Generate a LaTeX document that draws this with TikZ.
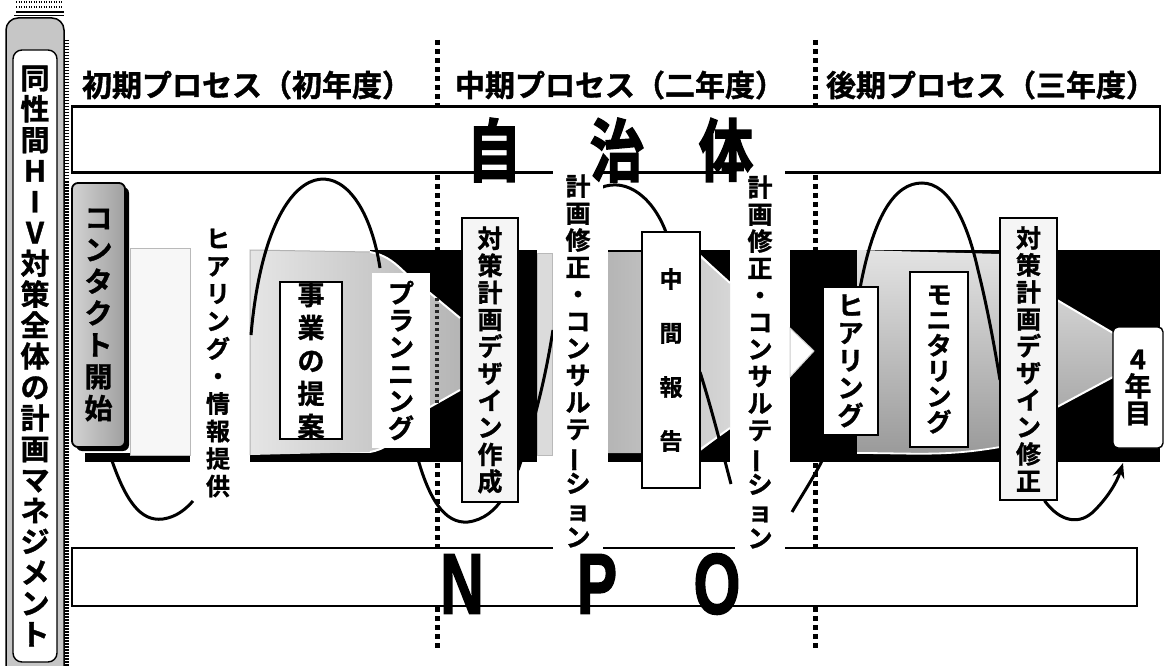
\documentclass[tikz,border=0pt]{standalone}
\usepackage{fontspec}
\setmainfont{Noto Sans CJK JP}[BoldFont={* Bold}, BoldFeatures={FakeBold=1.2}]
\newfontfamily\jpheavy{Noto Sans CJK JP}[UprightFont={* Bold}, FakeBold=2.5]
\newfontfamily\latinb{Liberation Sans}[UprightFont={* Bold}, FakeBold=2]
\usetikzlibrary{arrows.meta}
\newcommand\vbar{\rotatebox[origin=c]{90}{ー}}
\tikzset{
  lbl/.style={draw=black, line width=1.4pt, fill=white, inner sep=0pt, align=center},
  colw/.style={fill=white, inner sep=0pt, align=center},
  vfont/.style={font=\bfseries\fontsize{25}{27}\selectfont},
  thread/.style={line width=3pt, black},
  vdash/.style={line width=5pt, dash pattern=on 5pt off 4pt},
  wedge/.style={draw=white, line width=2pt},
  head/.style={font=\bfseries\fontsize{30}{30}\selectfont, inner sep=0pt},
  bigc/.style={font=\jpheavy\fontsize{68}{68}\selectfont, inner sep=0pt},
  npo/.style={font=\latinb\fontsize{86}{86}\selectfont, inner sep=0pt},
  rowbox/.style={draw=black, line width=2.6pt, fill=white, inner sep=0pt},
}
\begin{document}
\begin{tikzpicture}[x=1pt,y=-1pt]
\useasboundingbox (0,0) rectangle (1171,666);
\fill[white] (0,0) rectangle (1171,666);

% ---------- left bar ----------
\draw[line width=1.2pt, dash pattern=on 1pt off 1.5pt] (16,2) -- (62,2);
\draw[line width=1.2pt, dash pattern=on 1pt off 1.5pt] (16,7) -- (62,7);
\draw[line width=1.5pt] (16,12) -- (64,12);
\draw[line width=1.5pt] (14,15.5) -- (64,15.5);
\filldraw[fill=gray!45, draw=black, line width=1.5pt, rounded corners=12pt] (6,18) rectangle (64,700);
\draw[line width=5pt, dash pattern=on 1.5pt off 1.5pt] (66,40) -- (66,666);
\node[draw=black, line width=1.4pt, fill=white, rounded corners=9pt, minimum width=44pt, minimum height=612pt, inner sep=0pt, align=center,
      font=\bfseries\fontsize{29}{30.9}\selectfont] (bar) at (35,356)
  {同\\性\\間\\H\\I\\V\\対\\策\\全\\体\\の\\計\\画\\マ\\ネ\\ジ\\メ\\ン\\ト};

% ---------- dashed phase separators ----------
\coordinate (d1t) at (437,40);  \coordinate (d1b) at (437,650);
\coordinate (d2t) at (815,40);  \coordinate (d2b) at (815,650);
\draw[vdash] (d1t) -- (d1b);
\draw[vdash] (d2t) -- (d2b);

% ---------- headings ----------
\node[head] (h1) at (247,85) {初期プロセス（初年度）};
\node[head] (h2) at (620,85) {中期プロセス（二年度）};
\node[head] (h3) at (991,85) {後期プロセス（三年度）};

% ---------- band (black backgrounds) ----------
\fill (85,453) rectangle (190,462);
\fill[rounded corners=6pt] (76,187) rectangle (129,451);
\fill (250,453) rectangle (537,462);
\fill (370,250) rectangle (537,462);
\fill (608,250) rectangle (730,462);
\fill (790,250) rectangle (1160,462);

% light box
\filldraw[fill=gray!6, draw=gray!55, line width=1pt] (130,248) rectangle (190,455);
% shape B
\shade[left color=gray!20, right color=gray!58]
  (250,250) -- (370,252) to[out=-10,in=150] (430,293) -- (460,318) -- (460,390) -- (430,407) to[out=-150,in=10] (370,452) -- (250,455) -- cycle;
\draw[gray!60, line width=1pt] (250,455) -- (250,250) -- (370,252);
\draw[wedge] (370,252) to[out=-10,in=150] (430,293) -- (460,318);
\draw[wedge] (460,390) -- (430,407) to[out=-150,in=10] (370,452);
\draw[line width=4pt, dash pattern=on 3pt off 3pt, black!85] (437,298) -- (437,405);
% sliver
\filldraw[fill=gray!28, draw=gray!55, line width=1pt] (537,253) rectangle (552,455);
% middle shape
\shade[left color=gray!58, right color=gray!32]
  (608,252) -- (698,252) -- (730,283) -- (730,428) -- (698,453) -- (608,453) -- cycle;
\draw[wedge] (698,254) -- (730,283);
\draw[wedge] (730,428) -- (698,451);
% small triangle
\filldraw[fill=white, draw=gray!40, line width=1pt] (790,328) -- (814,351) -- (790,377) -- cycle;
% shape C
\shade[top color=gray!22, bottom color=gray!80]
  (857,250) -- (1000,254) -- (1057,300) -- (1113,333) -- (1113,377) -- (1057,407) -- (1000,447) to[out=-170,in=0] (857,453) -- cycle;
\draw[wedge] (1057,300) -- (1113,333);
\draw[wedge] (1113,377) -- (1057,407);
\draw[white, line width=1.8pt] (1000,447) to[out=-170,in=0] (857,453);

% ---------- thread ----------
\draw[thread] (110,455) .. controls (125,500) and (140,522) .. (163,519) .. controls (176,517) and (185,510) .. (193,501);
\draw[thread] (251,335) .. controls (268,140) and (360,140) .. (380,268);
\draw[thread] (415,448) .. controls (428,500) and (445,524) .. (468,522) .. controls (484,520) and (495,510) .. (503,498);
\draw[thread] (518,470) .. controls (535,420) and (545,380) .. (553,330);
\draw[thread] (600,188) .. controls (628,176) and (655,200) .. (667,235);
\draw[thread] (700,372) .. controls (712,410) and (722,450) .. (731,484);
\draw[thread] (792,512) .. controls (805,490) and (822,465) .. (833,437);
\draw[thread] (858,300) .. controls (872,215) and (895,183) .. (922,183) .. controls (950,183) and (968,225) .. (978,270) .. controls (988,310) and (995,350) .. (1000,380);

% ---------- row boxes ----------
\node[rowbox, minimum width=1088pt, minimum height=66pt] (jbox) at (616,139.5) {};
\node[rowbox, minimum width=1065pt, minimum height=58pt] (nbox) at (604.5,577) {};

% ---------- labels ----------
\node[draw=black, line width=1.8pt, rounded corners=6pt, left color=gray!35, right color=gray!75, inner sep=0pt, align=center,
      minimum width=53pt, minimum height=264pt, font=\bfseries\fontsize{28}{31.7}\selectfont] (contact) at (98.5,315)
  {コ\\ン\\タ\\ク\\ト\\開\\始};
\node[colw, font=\bfseries\fontsize{24}{27.5}\selectfont] (hear) at (218,363)
  {ヒ\\ア\\リ\\ン\\グ\\・\\情\\報\\提\\供};
\node[lbl, minimum width=62pt, minimum height=153pt, font=\bfseries\fontsize{27}{33}\selectfont] (prop) at (311,360.5)
  {事\\業\\の\\提\\案};
\node[lbl, draw=none, minimum width=58pt, minimum height=175pt, font=\bfseries\fontsize{26}{27}\selectfont] (plan) at (401,360.5)
  {プ\\ラ\\ン\\ニ\\ン\\グ};
\node[lbl, fill=gray!8, minimum width=56pt, minimum height=284pt, vfont] (des1) at (490,360)
  {対\\策\\計\\画\\デ\\ザ\\イ\\ン\\作\\成};
\node[colw, minimum width=50pt, minimum height=386pt, vfont] (con1) at (578,361)
  {計\\画\\修\\正\\・\\コ\\ン\\サ\\ル\\テ\\\vbar\\シ\\ョ\\ン};
\node[lbl, minimum width=58pt, minimum height=256pt, font=\bfseries\fontsize{23}{54}\selectfont] (mid) at (671,360)
  {中\\間\\報\\告};
\node[colw, minimum width=50pt, minimum height=386pt, vfont] (con2) at (760,362)
  {計\\画\\修\\正\\・\\コ\\ン\\サ\\ル\\テ\\\vbar\\シ\\ョ\\ン};
\node[lbl, minimum width=55pt, minimum height=148pt, font=\bfseries\fontsize{26}{27.5}\selectfont] (hear2) at (850.5,361)
  {ヒ\\ア\\リ\\ン\\グ};
\node[lbl, minimum width=58pt, minimum height=175pt, font=\bfseries\fontsize{25}{25.5}\selectfont] (mon) at (939,359.5)
  {モ\\ニ\\タ\\リ\\ン\\グ};
\node[lbl, fill=gray!8, minimum width=57pt, minimum height=282pt, vfont] (des2) at (1028.5,359)
  {対\\策\\計\\画\\デ\\ザ\\イ\\ン\\修\\正};
\node[lbl, rounded corners=5pt, minimum width=50pt, minimum height=121pt, font=\bfseries\fontsize{27}{27}\selectfont] (yr4) at (1138,387.5)
  {4\\年\\目};

% final arrow into year 4
\draw[thread, -{Stealth[length=15pt,width=12pt,fill=gray!55]}] (des2.south) ++(16,0) coordinate (a0)
  .. controls (1060,522) and (1080,526) .. (1095,510) .. controls (1108,497) and (1117,482) .. (1123,463);

% ---------- big row texts ----------
\node[bigc] (ji1) at (494,150) {\scalebox{0.8}[1]{自}};
\node[bigc] (ji2) at (617,150) {\scalebox{0.8}[1]{治}};
\node[bigc] (ji3) at (726,150) {\scalebox{0.8}[1]{体}};
\node[npo] (n1) at (462,584) {\scalebox{0.7}[1]{N}};
\node[npo] (n2) at (597,584) {\scalebox{0.7}[1]{P}};
\node[npo] (n3) at (717,584) {\scalebox{0.7}[1]{O}};
\end{tikzpicture}
\end{document}
